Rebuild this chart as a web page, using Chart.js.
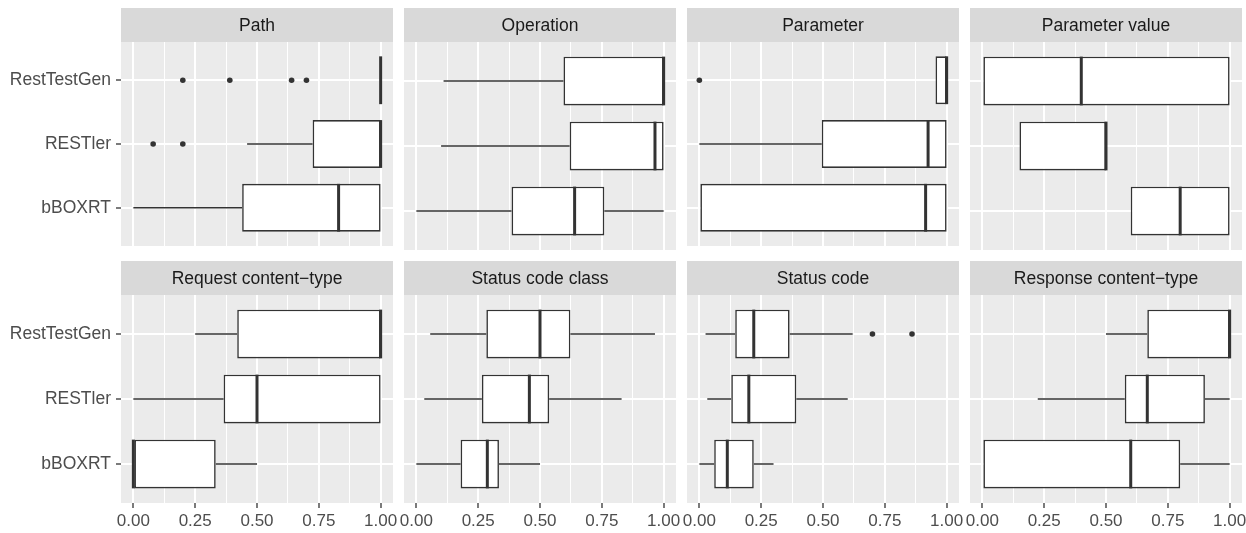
<!DOCTYPE html>
<html>
<head>
<meta charset="utf-8">
<script src="https://cdn.jsdelivr.net/npm/chart.js@4.4.0/dist/chart.umd.min.js"></script>
<style>
  html, body { margin: 0; padding: 0; background: #fff; width: 1246px; height: 533px; overflow: hidden; }
  .facet { position: absolute; }
</style>
</head>
<body>
<div id="root"></div>
<script>
// facets (read left to right, top to bottom) and the three tools, top to bottom
const facets = ['Path', 'Operation', 'Parameter', 'Parameter value',
  'Request content\u2212type', 'Status code class', 'Status code', 'Response content\u2212type'];
const tools = ['RestTestGen', 'RESTler', 'bBOXRT'];

// box stats per facet: [RestTestGen, RESTler, bBOXRT]
const whiskerLow = [
  [1, 0.46, 0], [0.11, 0.1, 0], [0.955, 0, 0], [0, 0.15, 0.6],
  [0.25, 0, 0], [0.056, 0.032, 0], [0.025, 0.032, 0], [0.5, 0.224, 0]
];
const q1 = [
  [1, 0.725, 0.44], [0.595, 0.62, 0.385], [0.955, 0.495, 0], [0, 0.15, 0.6],
  [0.42, 0.365, 0], [0.283, 0.265, 0.179], [0.145, 0.129, 0.06], [0.667, 0.576, 0]
];
const medians = [
  [1, 1, 0.83], [1, 0.965, 0.64], [1, 0.925, 0.915], [0.4, 0.5, 0.8],
  [1, 0.5, 0], [0.5, 0.457, 0.287], [0.22, 0.2, 0.113], [1, 0.667, 0.6]
];
const q3 = [
  [1, 1, 1], [1, 1, 0.76], [1, 1, 1], [1, 0.5, 1],
  [1, 1, 0.333], [0.623, 0.537, 0.334], [0.365, 0.392, 0.22], [1, 0.9, 0.8]
];
const whiskerHigh = [
  [1, 1, 1], [1, 1, 1], [1, 1, 1], [1, 0.5, 1],
  [1, 1, 0.5], [0.965, 0.83, 0.5], [0.62, 0.6, 0.3], [1, 1, 1]
];
const outliers = [
  [[0.2, 0.39, 0.64, 0.7], [0.08, 0.2], []],
  [[], [], []],
  [[0], [], []],
  [[], [], []],
  [[], [], []],
  [[], [], []],
  [[0.7, 0.86], [], []],
  [[], [], []]
];

const xMajor = [0, 0.25, 0.5, 0.75, 1];
const xMajorLabels = ['0.00', '0.25', '0.50', '0.75', '1.00'];
const xMinor = [0.125, 0.375, 0.625, 0.875];

// layout (pixels)
const FONT = "'Liberation Sans', Arial, Helvetica, sans-serif";
const colLeft = [121, 404, 687, 970];
const rowTop = [8, 261];
const PANEL_W = 272, PANEL_H = 208, STRIP_H = 34, AXIS_H = 30, YAXIS_W = 121, SPILL = 20;

const isMajor = v => xMajor.some(m => Math.abs(m - v) < 1e-9);

const ggBox = {
  id: 'ggbox',
  beforeDraw(chart, args, opts) {
    const { ctx, chartArea: a } = chart;
    ctx.save();
    ctx.fillStyle = '#EBEBEB';
    ctx.fillRect(a.left, a.top, a.width, a.height);
    ctx.fillStyle = '#D9D9D9';
    ctx.fillRect(a.left, a.top - STRIP_H, a.width, STRIP_H);
    ctx.fillStyle = '#1A1A1A';
    ctx.font = '17.5px ' + FONT;
    ctx.textAlign = 'center';
    ctx.textBaseline = 'middle';
    ctx.fillText(facets[opts.facet], (a.left + a.right) / 2, a.top - STRIP_H / 2 + 1);
    ctx.restore();
  },
  beforeDatasetsDraw(chart, args, opts) {
    const f = opts.facet;
    const { ctx, scales: { x, y } } = chart;
    ctx.save();
    ctx.strokeStyle = '#333333';
    ctx.lineWidth = 1.4;
    tools.forEach((t, i) => {
      const yc = y.getPixelForValue(i + 1);
      ctx.beginPath();
      ctx.moveTo(x.getPixelForValue(whiskerLow[f][i]), yc);
      ctx.lineTo(x.getPixelForValue(q1[f][i]), yc);
      ctx.moveTo(x.getPixelForValue(q3[f][i]), yc);
      ctx.lineTo(x.getPixelForValue(whiskerHigh[f][i]), yc);
      ctx.stroke();
    });
    ctx.restore();
  },
  afterDatasetsDraw(chart, args, opts) {
    const f = opts.facet;
    const { ctx, scales: { x } } = chart;
    const bars = chart.getDatasetMeta(0).data;
    ctx.save();
    ctx.strokeStyle = '#333333';
    ctx.lineWidth = 3;
    bars.forEach((bar, i) => {
      const xm = x.getPixelForValue(medians[f][i]);
      ctx.beginPath();
      ctx.moveTo(xm, bar.y - bar.height / 2);
      ctx.lineTo(xm, bar.y + bar.height / 2);
      ctx.stroke();
    });
    ctx.restore();
  }
};

function makeFacet(f) {
  const col = f % 4, row = Math.floor(f / 4);
  const left = col === 0, bottom = row === 1;

  const wrap = document.createElement('div');
  wrap.className = 'facet';
  const x0 = left ? 0 : colLeft[col] - SPILL;
  const w = left ? YAXIS_W + PANEL_W + SPILL : PANEL_W + 2 * SPILL;
  const h = STRIP_H + PANEL_H + (bottom ? AXIS_H : 0);
  wrap.style.left = x0 + 'px';
  wrap.style.top = rowTop[row] + 'px';
  wrap.style.width = w + 'px';
  wrap.style.height = h + 'px';
  const canvas = document.createElement('canvas');
  wrap.appendChild(canvas);
  document.getElementById('root').appendChild(wrap);

  const outPts = [];
  outliers[f].forEach((vals, i) => vals.forEach(v => outPts.push({ x: v, y: i + 1 })));

  new Chart(canvas, {
    type: 'bar',
    data: {
      datasets: [
        {
          type: 'bar',
          data: tools.map((t, i) => ({ y: i + 1, x: [q1[f][i], q3[f][i]] })),
          backgroundColor: '#FFFFFF',
          borderColor: '#333333',
          borderWidth: 1.6,
          borderSkipped: false,
          categoryPercentage: 1,
          barPercentage: 0.75
        },
        {
          type: 'scatter',
          data: outPts,
          pointRadius: 2.8,
          pointBackgroundColor: '#333333',
          pointBorderWidth: 0
        }
      ]
    },
    options: {
      indexAxis: 'y',
      responsive: true,
      maintainAspectRatio: false,
      animation: false,
      devicePixelRatio: 1,
      layout: { padding: { left: left ? 0 : SPILL, right: SPILL, top: STRIP_H, bottom: 0 } },
      plugins: {
        legend: { display: false },
        tooltip: { enabled: false },
        ggbox: { facet: f }
      },
      scales: {
        x: {
          type: 'linear',
          min: -0.05,
          max: 1.05,
          offset: false,
          afterBuildTicks: s => {
            s.ticks = xMajor.concat(xMinor).sort((a, b) => a - b).map(v => ({ value: v }));
          },
          afterFit: s => { s.height = bottom ? AXIS_H : 0; },
          ticks: {
            display: bottom,
            autoSkip: false,
            maxRotation: 0,
            padding: 3,
            color: '#4D4D4D',
            font: { family: FONT, size: 17 },
            callback: v => {
              const k = xMajor.findIndex(m => Math.abs(m - v) < 1e-9);
              return k >= 0 ? xMajorLabels[k] : '';
            }
          },
          grid: {
            offset: false,
            color: '#FFFFFF',
            lineWidth: c => (c.tick && !isMajor(c.tick.value)) ? 1 : 2,
            drawTicks: bottom,
            tickLength: 5,
            tickWidth: 1.3,
            tickColor: c => (c.tick && !isMajor(c.tick.value)) ? 'rgba(0,0,0,0)' : '#333333'
          },
          border: { display: false }
        },
        y: {
          type: 'linear',
          reverse: true,
          min: 0.4,
          max: 3.6,
          offset: false,
          afterBuildTicks: s => { s.ticks = tools.map((t, i) => ({ value: i + 1 })); },
          afterFit: s => {
            s.width = left ? YAXIS_W : 0;
            s.paddingTop = 0;
            s.paddingBottom = 0;
          },
          ticks: {
            display: left,
            padding: 5,
            color: '#4D4D4D',
            font: { family: FONT, size: 17.5 },
            callback: v => tools[v - 1]
          },
          grid: {
            offset: false,
            color: '#FFFFFF',
            lineWidth: 2,
            drawTicks: left,
            tickLength: 5,
            tickWidth: 1.3,
            tickColor: '#333333'
          },
          border: { display: false }
        }
      }
    },
    plugins: [ggBox]
  });
}

facets.forEach((name, f) => makeFacet(f));
</script>
</body>
</html>
